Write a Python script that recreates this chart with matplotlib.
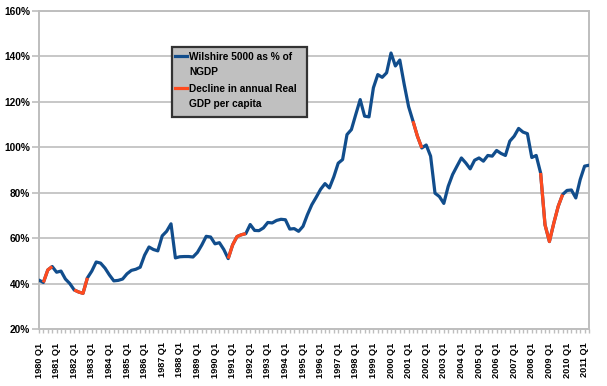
import matplotlib
matplotlib.use("Agg")
import matplotlib.pyplot as plt
import numpy as np
from matplotlib.patches import Rectangle
from matplotlib.lines import Line2D

# ---------------- data ----------------
years = list(range(1980, 2012))
quarters = [f"{y} Q{q}" for y in years for q in (1, 2, 3, 4)][:126]   # 1980 Q1 .. 2011 Q2

wilshire_pct = [
    41.5, 40.5, 46.0, 47.5, 45.0, 45.5, 42.0, 40.0,      # 1980-1981
    37.2, 36.3, 35.7, 42.5, 45.5, 49.5, 49.0, 46.8,      # 1982-1983
    43.8, 41.2, 41.4, 42.0, 44.3, 45.8, 46.3, 47.2,      # 1984-1985
    52.5, 56.1, 55.0, 54.4, 61.0, 63.0, 66.3, 51.3,      # 1986-1987
    51.8, 51.9, 51.9, 51.7, 53.7, 57.0, 60.8, 60.5,      # 1988-1989
    57.5, 58.0, 55.0, 51.0, 57.0, 60.7, 61.5, 62.0,      # 1990-1991
    66.0, 63.4, 63.3, 64.5, 66.9, 66.7, 67.8, 68.3,      # 1992-1993
    68.1, 64.0, 64.2, 63.0, 65.2, 70.3, 74.7, 78.0,      # 1994-1995
    81.5, 84.0, 82.1, 87.0, 93.0, 94.6, 105.6, 107.8,    # 1996-1997
    114.5, 121.0, 113.7, 113.4, 126.2, 132.0, 130.8, 132.8,  # 1998-1999
    141.5, 135.8, 138.4, 127.7, 117.9, 111.5, 104.9, 99.7,   # 2000-2001
    101.0, 96.1, 79.8, 78.3, 75.3, 82.8, 88.0, 91.7,     # 2002-2003
    95.3, 93.1, 90.5, 94.3, 95.3, 93.9, 96.4, 96.1,      # 2004-2005
    98.6, 97.3, 96.4, 102.7, 104.9, 108.3, 106.7, 106.0, # 2006-2007
    95.5, 96.4, 88.7, 65.9, 58.5, 66.6, 74.0, 79.2,      # 2008-2009
    81.0, 81.2, 77.7, 85.8, 91.7, 92.1,                  # 2010-2011 Q2
]

decline_periods = [
    ("1980 Q2", "1980 Q4"),
    ("1982 Q1", "1982 Q4"),
    ("1990 Q4", "1991 Q4"),
    ("2001 Q2", "2001 Q4"),
    ("2008 Q3", "2009 Q4"),
]

y_ticks = [20, 40, 60, 80, 100, 120, 140, 160]
series_label = "Wilshire 5000 as % of\nNGDP"
decline_label = "Decline in annual Real\nGDP per capita"

# ---------------- style ----------------
BLUE = "#114D8C"
RED = "#FF4B1F"
GRID = "#BEBEBE"
FONT = "Liberation Sans"

W, H = 607, 386
fig = plt.figure(figsize=(W / 100, H / 100), dpi=100)
L, R, T, B = 39, 589, 11, 329
ax = fig.add_axes([L / W, 1 - B / H, (R - L) / W, (B - T) / H])

x = np.arange(len(quarters))
vals = np.array(wilshire_pct, dtype=float)

ax.plot(x, vals, color=BLUE, lw=2.3, solid_joinstyle="round", solid_capstyle="round", zorder=3)
for a, b in decline_periods:
    i0, i1 = quarters.index(a), quarters.index(b)
    ax.plot(x[i0:i1 + 1], vals[i0:i1 + 1], color=RED, lw=2.3,
            solid_joinstyle="round", solid_capstyle="butt", zorder=4)

ax.set_xlim(0, len(quarters) - 1)
ax.set_ylim(20, 160)

ax.set_yticks(y_ticks)
ax.set_yticklabels([f"{v}%" for v in y_ticks], fontfamily=FONT, fontweight="bold", fontsize=7.3)
ax.yaxis.grid(True, color=GRID, lw=1.2)
ax.set_axisbelow(True)

major = [i for i, q in enumerate(quarters) if q.endswith("Q1")]
ax.set_xticks(major)
ax.set_xticklabels([quarters[i] for i in major], rotation=90, fontfamily=FONT,
                   fontweight="bold", fontsize=6.6)
ax.set_xticks(x, minor=True)

ax.tick_params(axis="y", length=5, width=1.2, color=GRID, pad=1.5, labelcolor="black")
ax.tick_params(axis="x", which="both", length=3.2, width=1.0, color=GRID, pad=6.5)

for s in ["left", "right", "top", "bottom"]:
    ax.spines[s].set_color(GRID)
    ax.spines[s].set_linewidth(1.4)

# ---------------- legend (drawn in pixel coordinates) ----------------
def fx(px):
    return px / W

def fy(py):
    return 1 - py / H

fig.add_artist(Rectangle((fx(172), fy(117)), fx(307) - fx(172), fy(47) - fy(117),
                         transform=fig.transFigure, facecolor="#C0C0C0",
                         edgecolor="#333333", lw=1.6, zorder=10))
for label, color, ytop in [(series_label, BLUE, 57), (decline_label, RED, 89)]:
    fig.add_artist(Line2D([fx(174.5), fx(187)], [fy(ytop - 1), fy(ytop - 1)],
                          transform=fig.transFigure, color=color, lw=2.3, zorder=11))
    for k, line in enumerate(label.split("\n")):
        fig.text(fx(189), fy(ytop + 15 * k), line, fontfamily=FONT, fontweight="bold",
                 fontsize=7.3, va="center", ha="left", zorder=12)

fig.savefig("out.png", dpi=100)
